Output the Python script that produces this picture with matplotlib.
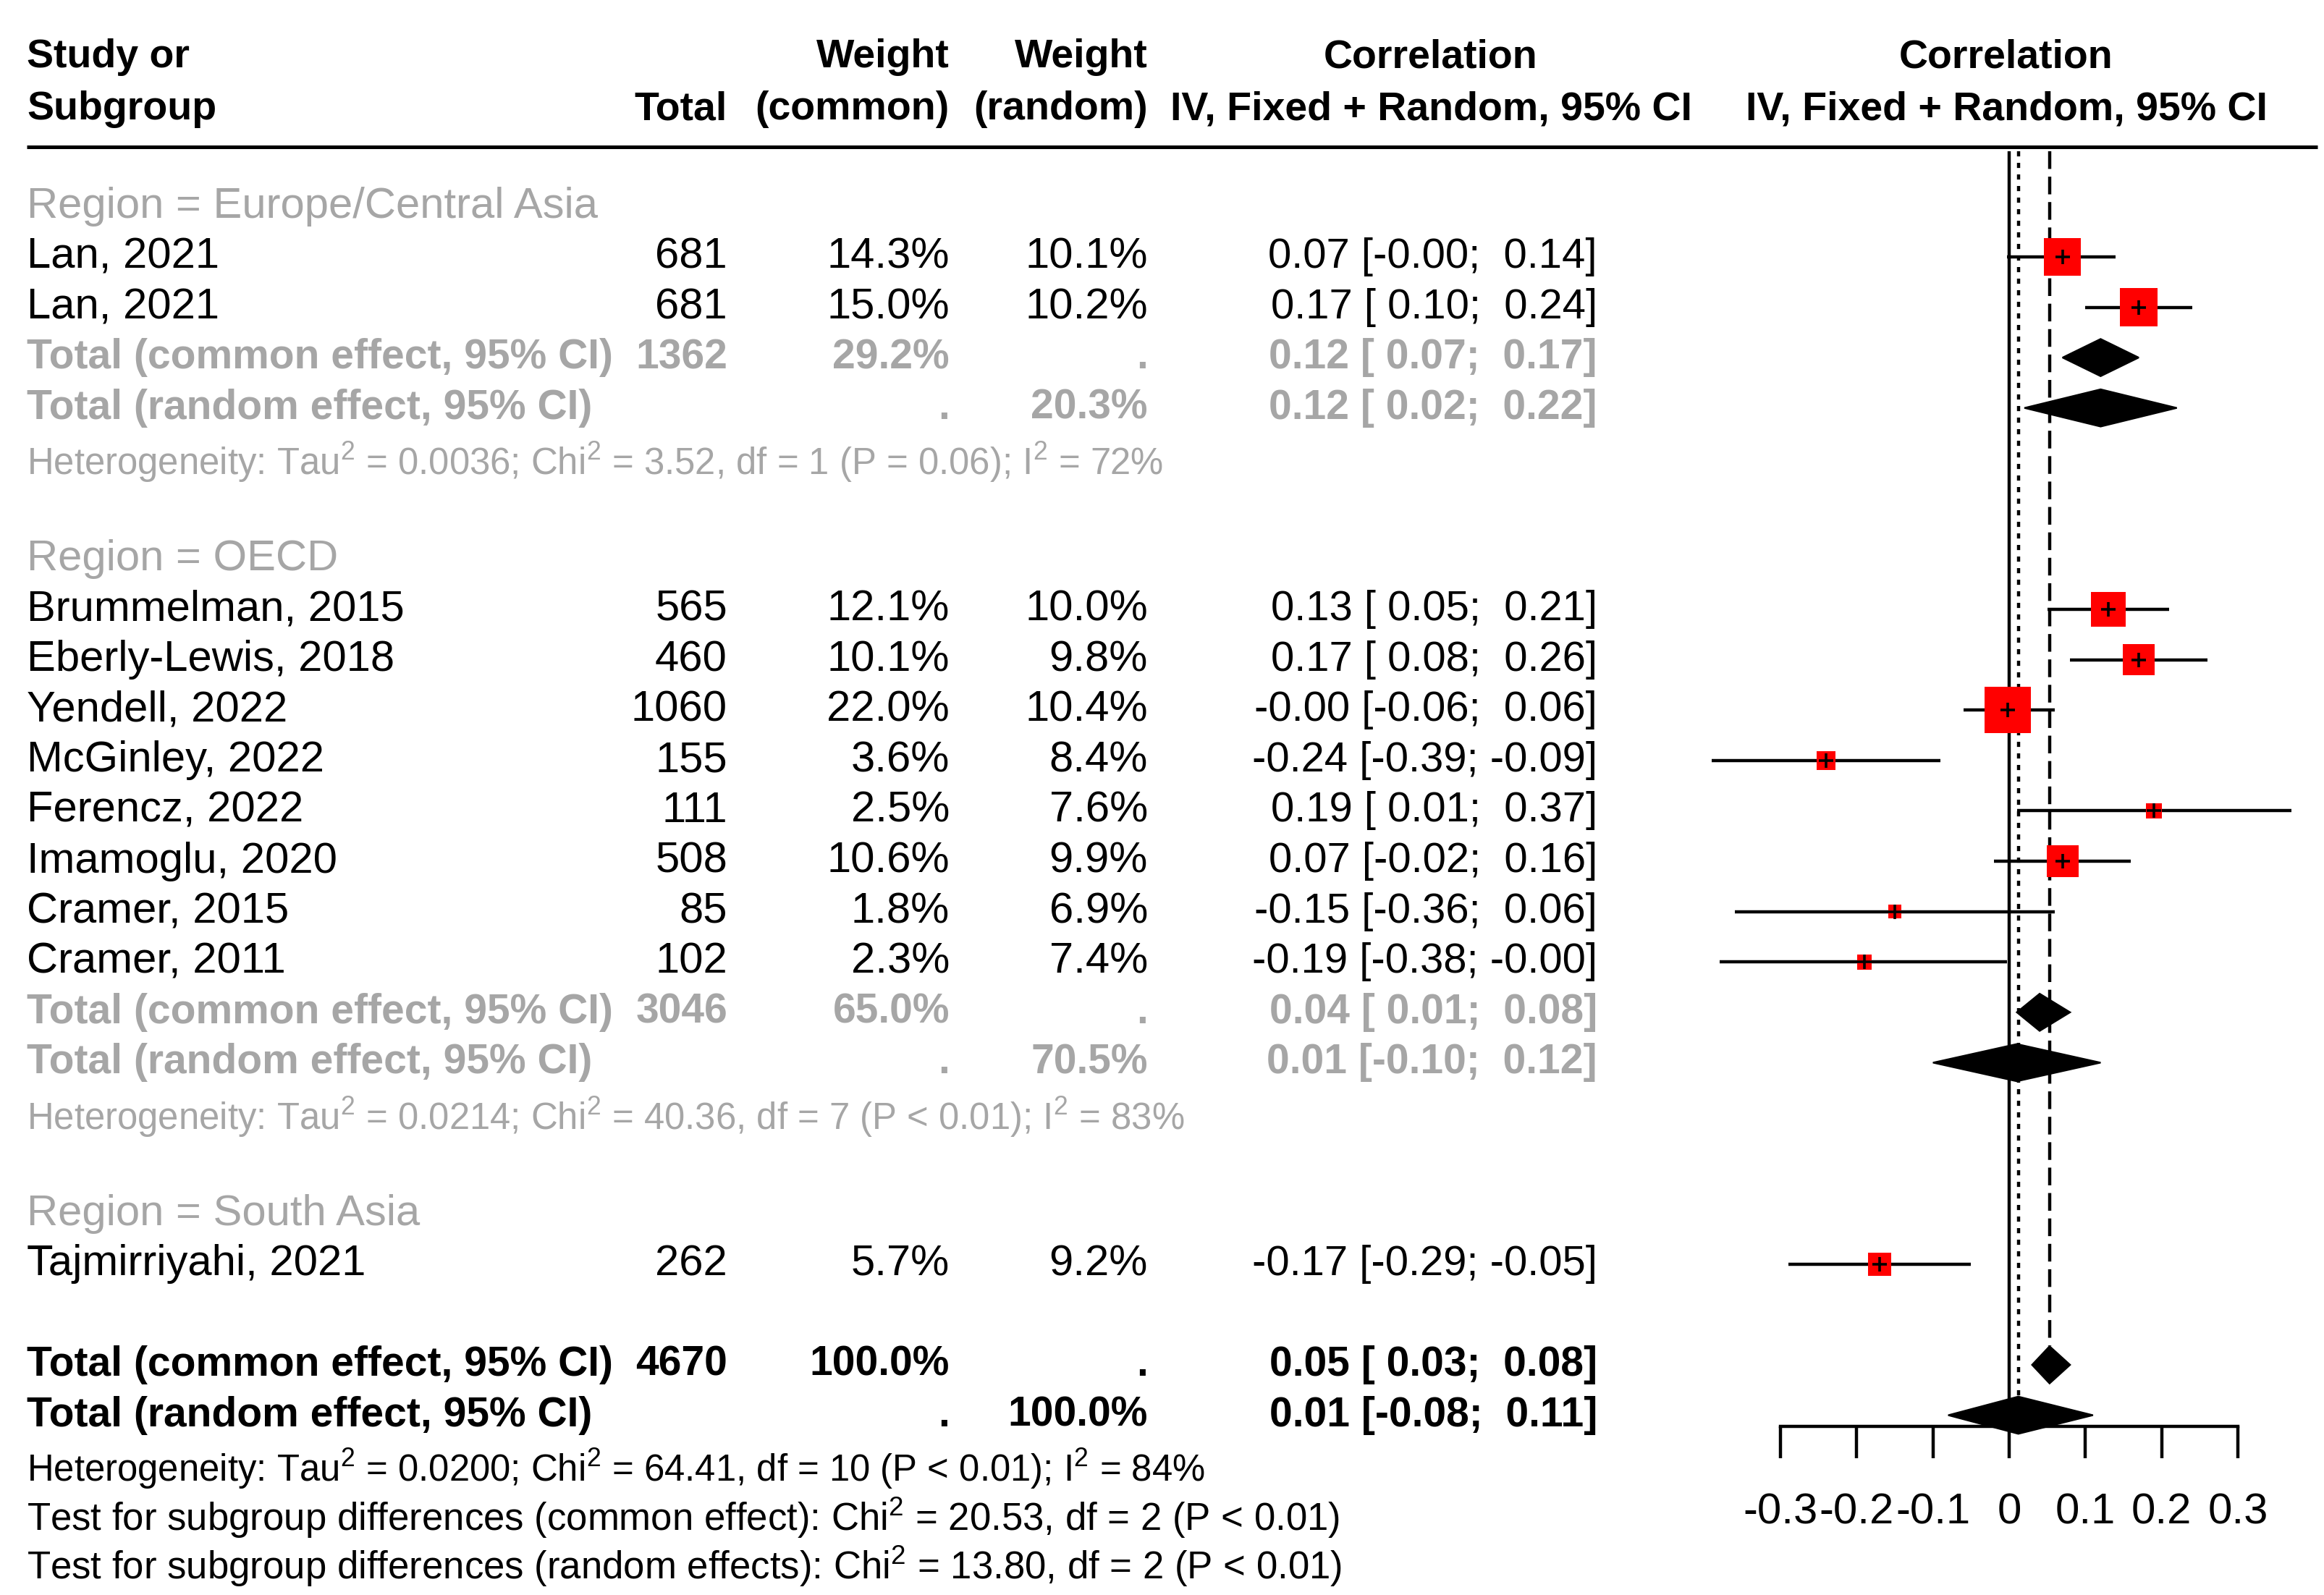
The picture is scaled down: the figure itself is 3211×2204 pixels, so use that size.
import numpy as np
import matplotlib.pyplot as plt
from matplotlib.patches import Polygon

plt.rcParams['font.family'] = ['Liberation Sans', 'DejaVu Sans']
plt.rcParams['mathtext.fontset'] = 'custom'
plt.rcParams['mathtext.rm'] = 'Liberation Sans'
plt.rcParams['mathtext.bf'] = 'Liberation Sans:bold'
plt.rcParams['axes.unicode_minus'] = False

# ---- data ----
studies = ["Lan, 2021", "Lan, 2021", "Brummelman, 2015", "Eberly-Lewis, 2018",
           "Yendell, 2022", "McGinley, 2022", "Ferencz, 2022", "Imamoglu, 2020",
           "Cramer, 2015", "Cramer, 2011", "Tajmirriyahi, 2021"]
study_group = [0, 0, 1, 1, 1, 1, 1, 1, 1, 1, 2]
n_total = [681, 681, 565, 460, 1060, 155, 111, 508, 85, 102, 262]
w_common = [14.3, 15.0, 12.1, 10.1, 22.0, 3.6, 2.5, 10.6, 1.8, 2.3, 5.7]
w_random = [10.1, 10.2, 10.0, 9.8, 10.4, 8.4, 7.6, 9.9, 6.9, 7.4, 9.2]
cor = [0.07, 0.17, 0.13, 0.17, -0.002, -0.24, 0.19, 0.07, -0.15, -0.19, -0.17]
ci_lo = [-0.003, 0.10, 0.05, 0.08, -0.06, -0.39, 0.01, -0.02, -0.36, -0.38, -0.29]
ci_hi = [0.14, 0.24, 0.21, 0.26, 0.06, -0.09, 0.37, 0.16, 0.06, -0.003, -0.05]

groups = ["Europe/Central Asia", "OECD", "South Asia"]
grp_n = [1362, 3046, None]
grp_w_common = [29.2, 65.0, None]
grp_w_random = [20.3, 70.5, None]
grp_common = [(0.12, 0.07, 0.17), (0.04, 0.01, 0.08), None]
grp_random = [(0.12, 0.02, 0.22), (0.01, -0.10, 0.12), None]
grp_tau2 = [0.0036, 0.0214, None]
grp_chi2 = [3.52, 40.36, None]
grp_df = [1, 7, None]
grp_p = ["P = 0.06", "P < 0.01", None]
grp_i2 = [72, 83, None]

all_n = 4670
all_common = (0.053, 0.03, 0.08)
all_random = (0.012, -0.08, 0.11)
all_tau2, all_chi2, all_df, all_p, all_i2 = 0.0200, 64.41, 10, "P < 0.01", 84
test_common = (20.53, 2, "P < 0.01")
test_random = (13.80, 2, "P < 0.01")

ticks = [-0.3, -0.2, -0.1, 0, 0.1, 0.2, 0.3]
tick_labels = ["-0.3", "-0.2", "-0.1", "0", "0.1", "0.2", "0.3"]

# ---- layout ----
W, H = 3212, 2204
fig = plt.figure(figsize=(W / 200, H / 200), dpi=200)
ytop, ybot = -4.10, 27.57

tab = fig.add_axes([0, 0, 1, 1])
tab.set_xlim(0, W)
tab.set_ylim(ybot, ytop)
tab.axis('off')

zero_px, px_unit = 2776, 1053
fx0, fx1 = 2300, 3212
ax = fig.add_axes([fx0 / W, 0, (fx1 - fx0) / W, 1])
ax.set_xlim((fx0 - zero_px) / px_unit, (fx1 - zero_px) / px_unit)
ax.set_ylim(ybot, ytop)
ax.patch.set_visible(False)
for s in ['left', 'right', 'top']:
    ax.spines[s].set_visible(False)
ax.set_yticks([])

FS = 21.5
FS_CI = 20.9
FS_BOLD = 20.5
FS_HEAD = 20
FS_HET = 18.3
FS_TEST = 19.0
GREY = '#A6A6A6'
LW = 1.6
x_lab, x_tot, x_wc, x_wr, x_ci = 37, 1005, 1312, 1586, 2207


def ci_text(e, l, h):
    return f"{e:.2f} [{l:5.2f}; {h:5.2f}]"


def row_text(r, label, tot, wc, wr, ci, color='black', weight='normal'):
    size = FS_BOLD if weight == 'bold' else FS
    kw = dict(va='center', fontsize=size, color=color, fontweight=weight)
    tab.text(x_lab, r, label, ha='left', **kw)
    tab.text(x_tot, r, tot, ha='right', **kw)
    tab.text(x_wc, r, wc, ha='right', **kw)
    tab.text(x_wr, r, wr, ha='right', **kw)
    kw['fontsize'] = FS_BOLD if weight == 'bold' else FS_CI
    tab.text(x_ci, r, ci, ha='right', **kw)


def diamond(r, e, l, h):
    ax.add_patch(Polygon([(l, r), (e, r - 0.37), (h, r), (e, r + 0.37)],
                         closed=True, facecolor='black', edgecolor='black',
                         lw=0.8, zorder=4, clip_on=False))


def het_text(tau2, chi2, df, p, i2):
    return (f"Heterogeneity: Tau$^2$ = {tau2:.4f}; Chi$^2$ = {chi2:.2f}, "
            f"df = {df} ({p}); I$^2$ = {i2}%")


# header
hkw = dict(va='center', fontsize=FS_HEAD, fontweight='bold')
tab.text(x_lab, -2.96, "Study or", ha='left', **hkw)
tab.text(x_lab, -1.93, "Subgroup", ha='left', **hkw)
tab.text(x_tot, -1.93, "Total", ha='right', **hkw)
tab.text(x_wc, -2.96, "Weight", ha='right', **hkw)
tab.text(x_wc, -1.93, "(common)", ha='right', **hkw)
tab.text(x_wr, -2.96, "Weight", ha='right', **hkw)
tab.text(x_wr, -1.93, "(random)", ha='right', **hkw)
tab.text(1977, -2.96, "Correlation", ha='center', **hkw)
tab.text(1977, -1.93, "IV, Fixed + Random, 95% CI", ha='center', **hkw)
tab.text(2772, -2.96, "Correlation", ha='center', **hkw)
tab.text(2772, -1.93, "IV, Fixed + Random, 95% CI", ha='center', **hkw)
tab.hlines(-1.18, 37, 3202, color='black', lw=1.8)

# rows
r = 0
study_rows = []
for g, name in enumerate(groups):
    tab.text(x_lab, r, f"Region = {name}", ha='left', va='center',
             fontsize=FS, color=GREY)
    r += 1
    for i in range(len(studies)):
        if study_group[i] != g:
            continue
        row_text(r, studies[i], f"{n_total[i]}", f"{w_common[i]:.1f}%",
                 f"{w_random[i]:.1f}%", ci_text(cor[i], ci_lo[i], ci_hi[i]))
        study_rows.append(r)
        r += 1
    if grp_common[g] is None:
        continue
    row_text(r, "Total (common effect, 95% CI)", f"{grp_n[g]}",
             f"{grp_w_common[g]:.1f}%", ".", ci_text(*grp_common[g]),
             color=GREY, weight='bold')
    diamond(r, *grp_common[g])
    row_text(r + 1, "Total (random effect, 95% CI)", "", ".",
             f"{grp_w_random[g]:.1f}%", ci_text(*grp_random[g]),
             color=GREY, weight='bold')
    diamond(r + 1, *grp_random[g])
    tab.text(x_lab, r + 2.08, het_text(grp_tau2[g], grp_chi2[g], grp_df[g],
                                       grp_p[g], grp_i2[g]),
             ha='left', va='center', fontsize=FS_HET, color=GREY)
    r += 4

r_all = r + 1
row_text(r_all, "Total (common effect, 95% CI)", f"{all_n}", "100.0%", ".",
         ci_text(*all_common), weight='bold')
diamond(r_all, *all_common)
row_text(r_all + 1, "Total (random effect, 95% CI)", "", ".", "100.0%",
         ci_text(*all_random), weight='bold')
diamond(r_all + 1, *all_random)
tab.text(x_lab, r_all + 2.06, het_text(all_tau2, all_chi2, all_df, all_p, all_i2),
         ha='left', va='center', fontsize=FS_HET)
tab.text(x_lab, r_all + 3.04,
         "Test for subgroup differences (common effect): Chi$^2$ = "
         f"{test_common[0]:.2f}, df = {test_common[1]} ({test_common[2]})",
         ha='left', va='center', fontsize=FS_TEST)
tab.text(x_lab, r_all + 4.0,
         "Test for subgroup differences (random effects): Chi$^2$ = "
         f"{test_random[0]:.2f}, df = {test_random[1]} ({test_random[2]})",
         ha='left', va='center', fontsize=FS_TEST)

# reference lines
axis_row = 24.22
ax.vlines(0, -1.1, axis_row, color='black', lw=LW, zorder=1)
ax.plot([all_common[0]] * 2, [-1.1, r_all - 0.37], color='black', lw=LW,
        dashes=(5.5, 2.4), zorder=1)
ax.plot([all_random[0]] * 2, [-1.1, r_all + 1 - 0.37], color='black', lw=LW,
        dashes=(1.6, 2.0), zorder=1)

# study marks
study_rows = np.array(study_rows)
ax.hlines(study_rows, ci_lo, ci_hi, color='black', lw=LW, zorder=2)
sizes = (4.9 * np.sqrt(np.array(w_common))) ** 2
ax.scatter(cor, study_rows, s=sizes, marker='s', color='#FF0000',
           linewidths=0, zorder=3)
ax.scatter(cor, study_rows, s=7.0 ** 2, marker='+', color='black',
           linewidths=1.3, zorder=4)

# x axis
ax.spines['bottom'].set_position(('data', axis_row))
ax.spines['bottom'].set_bounds(-0.3, 0.3)
ax.spines['bottom'].set_linewidth(LW)
ax.set_xticks(ticks)
ax.set_xticklabels(tick_labels)
ax.tick_params(axis='x', direction='out', length=16, width=LW, pad=17,
               labelsize=FS)

fig.savefig("out.png", dpi=200)
